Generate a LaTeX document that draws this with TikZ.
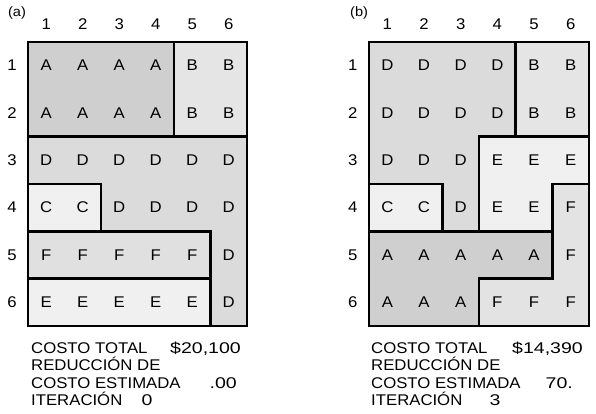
\documentclass[tikz,border=0pt]{standalone}
\usepackage{fontspec}
\setmainfont{Liberation Sans}[FakeStretch=1.08]
\newfontfamily\numfont{Liberation Sans}[FakeStretch=1.26]
\usepackage{tikz}

\begin{document}
\begin{tikzpicture}[
  zone/.style={draw,line width=2.4pt,line join=miter},
  cell/.style={font=\fontsize{15.5}{17}\selectfont,inner sep=0pt},
  info/.style={font=\fontsize{15.5}{17}\selectfont,inner sep=0pt,anchor=base west},
  val/.style={font=\numfont\fontsize{15.5}{17}\selectfont,inner sep=0pt,anchor=base east},
  tag/.style={font=\fontsize{13.5}{15}\selectfont,inner sep=0pt}]
  \useasboundingbox (0,0) rectangle (596pt,-414pt);

  % (a) iteration 0
  \begin{scope}[xshift=28pt,yshift=-42pt,x=36.5pt,y=-47.33pt]
    \filldraw[zone,fill=black!19] (0,0) rectangle (4,2); % A
    \filldraw[zone,fill=black!10] (4,0) rectangle (6,2); % B
    \filldraw[zone,fill=black!14]
      (0,2)--(6,2)--(6,6)--(5,6)--(5,4)--(2,4)--(2,3)--(0,3)--cycle; % D
    \filldraw[zone,fill=black!6]  (0,3) rectangle (2,4); % C
    \filldraw[zone,fill=black!12] (0,4) rectangle (5,5); % F
    \filldraw[zone,fill=black!6]  (0,5) rectangle (5,6); % E
    \draw[zone] (0,0) rectangle (6,6);

    \node[tag] (a-tag) at (-0.3,-0.61) {(a)};
    \foreach \c in {1,...,6}
      \node[cell] (a-col\c) at (\c-0.5,-0.38) {\c};
    \foreach \r/\row in {1/{A,A,A,A,B,B},2/{A,A,A,A,B,B},3/{D,D,D,D,D,D},
                         4/{C,C,D,D,D,D},5/{F,F,F,F,F,D},6/{E,E,E,E,E,D}}{
      \node[cell] (a-row\r) at (-0.44,\r-0.5) {\r};
      \foreach \l [count=\c] in \row
        \node[cell] (a-\r-\c) at (\c-0.5,\r-0.5) {\l};
    }
  \end{scope}

  \node[info] (a-total)  at (31pt,-353pt) {COSTO TOTAL};
  \node[val]  (a-totv)   at (241pt,-353pt) {\$20,100};
  \node[info] (a-red)    at (31pt,-370.5pt) {REDUCCIÓN DE};
  \node[info] (a-est)    at (31pt,-388pt) {COSTO ESTIMADA};
  \node[val]  (a-estv)   at (237pt,-388pt) {.00};
  \node[info] (a-iter)   at (31pt,-405.5pt) {ITERACIÓN};
  \node[val,anchor=base] (a-iterv) at (147pt,-405.5pt) {0};

  % (b) iteration 3
  \begin{scope}[xshift=369pt,yshift=-42pt,x=36.67pt,y=-47.33pt]
    \filldraw[zone,fill=black!14]
      (0,0)--(4,0)--(4,2)--(3,2)--(3,4)--(2,4)--(2,3)--(0,3)--cycle; % D
    \filldraw[zone,fill=black!10] (4,0) rectangle (6,2); % B
    \filldraw[zone,fill=black!6]
      (3,2)--(6,2)--(6,3)--(5,3)--(5,4)--(3,4)--cycle; % E
    \filldraw[zone,fill=black!6]  (0,3) rectangle (2,4); % C
    \filldraw[zone,fill=black!11]
      (5,3)--(6,3)--(6,6)--(3,6)--(3,5)--(5,5)--cycle; % F
    \filldraw[zone,fill=black!19]
      (0,4)--(5,4)--(5,5)--(3,5)--(3,6)--(0,6)--cycle; % A
    \draw[zone] (0,0) rectangle (6,6);

    \node[tag] (b-tag) at (-0.27,-0.61) {(b)};
    \foreach \c in {1,...,6}
      \node[cell] (b-col\c) at (\c-0.5,-0.38) {\c};
    \foreach \r/\row in {1/{D,D,D,D,B,B},2/{D,D,D,D,B,B},3/{D,D,D,E,E,E},
                         4/{C,C,D,E,E,F},5/{A,A,A,A,A,F},6/{A,A,A,F,F,F}}{
      \node[cell] (b-row\r) at (-0.44,\r-0.5) {\r};
      \foreach \l [count=\c] in \row
        \node[cell] (b-\r-\c) at (\c-0.5,\r-0.5) {\l};
    }
  \end{scope}

  \node[info] (b-total)  at (371pt,-353pt) {COSTO TOTAL};
  \node[val]  (b-totv)   at (583pt,-353pt) {\$14,390};
  \node[info] (b-red)    at (371pt,-370.5pt) {REDUCCIÓN DE};
  \node[info] (b-est)    at (371pt,-388pt) {COSTO ESTIMADA};
  \node[val]  (b-estv)   at (573pt,-388pt) {70.};
  \node[info] (b-iter)   at (371pt,-405.5pt) {ITERACIÓN};
  \node[val,anchor=base] (b-iterv) at (495pt,-405.5pt) {3};

\end{tikzpicture}
\end{document}
